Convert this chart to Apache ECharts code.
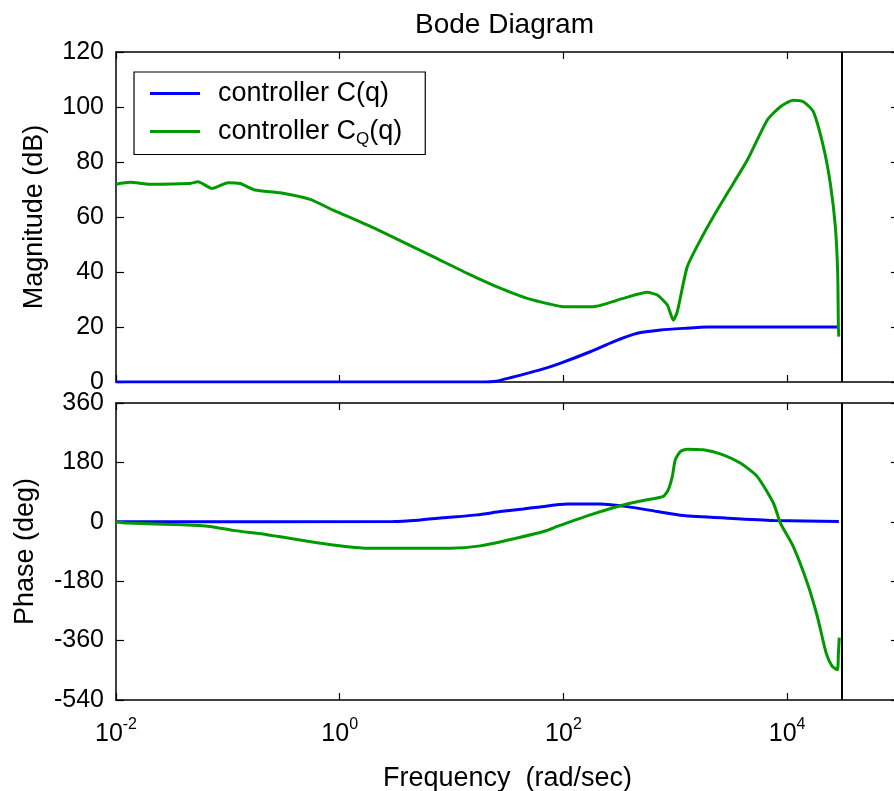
<!DOCTYPE html>
<html lang="en">
<head>
    <meta charset="UTF-8">
    <title>Bode Diagram</title>
    <script src="https://cdn.jsdelivr.net/npm/echarts@6/dist/echarts.min.js"></script>
    <style>
        html, body { margin: 0; padding: 0; background: #fff; }
    </style>
</head>
<body>
    <div id="ec" style="width:894px;height:791px"></div>
</body>
<script>
    // frequencies are stored as log10(w), w in rad/sec
    var seriesNames = ['controller C(q)', 'controller C_Q(q)']

    var magBlueLogW = [-2, 1.27, 1.4, 1.52, 1.79, 1.97, 2.24, 2.45, 2.66, 2.87, 3.07, 3.29, 4.462]
    var magBlue = [0, 0, 0.3, 1.5, 4.4, 6.8, 11.0, 14.7, 17.7, 18.9, 19.5, 20, 20]

    var magGreenLogW = [-2, -1.875, -1.696, -1.338, -1.267, -1.141, -0.998, -0.891, -0.757, -0.533,
        -0.265, -0.059, 0.245, 0.540, 0.835, 1.140, 1.435, 1.676, 1.882, 2.0, 2.267, 2.535, 2.750,
        2.839, 2.929, 2.982, 3.018, 3.107, 3.224, 3.340, 3.465, 3.644, 3.823, 3.940, 4.055, 4.145,
        4.234, 4.324, 4.386, 4.431, 4.452, 4.458, 4.462]
    var magGreen = [71.9, 72.6, 71.9, 72.2, 72.8, 70.4, 72.5, 72.2, 69.8, 68.8,
        66.4, 62.5, 57.1, 51.4, 45.6, 39.5, 34.1, 30.4, 28.3, 27.4, 27.4, 30.4, 32.6,
        31.6, 28, 22.5, 25.6, 41.9, 51.6, 60.1, 68.6, 80.7, 95.3, 100.1, 102.5, 101.9,
        98.3, 85.6, 72.2, 56.5, 39.5, 20.1, 16.5]

    var phBlueLogW = [-2, 0.478, 0.7, 0.925, 1.229, 1.435, 1.640, 1.766, 2.034, 2.329, 2.571, 2.839, 3.072, 3.465, 3.877, 4.462]
    var phBlue = [0, 1, 5, 12, 21, 31, 39, 44, 54, 54, 46, 31, 19, 11, 4, 1]

    var phGreenLogW = [-2, -1.902, -1.401, -1.159, -0.953, -0.649, -0.354, -0.059, 0.245, 0.987,
        1.256, 1.587, 1.837, 1.945, 2.240, 2.535, 2.750, 2.893, 2.937, 2.973, 3.0, 3.045, 3.107,
        3.250, 3.402, 3.581, 3.733, 3.877, 3.940, 4.055, 4.181, 4.270, 4.349, 4.403, 4.449, 4.458, 4.466]
    var phGreen = [0, -4, -9, -14, -26, -39, -55, -70, -80, -80,
        -73, -49, -28, -14, 21, 51, 67, 77, 97, 137, 188, 213, 220,
        218, 206, 178, 137, 57, -4, -75, -186, -287, -398, -438, -448, -400, -351]

    var nyquistLogW = 4.485
    var magTicks = { min: 0, max: 120, interval: 20 }
    var phTicks = { min: -540, max: 360, interval: 180 }
    var freqTicks = { min: -2, max: 5, interval: 2 }

    function pairs(xs, ys) {
        return xs.map(function(x, i) { return [x, ys[i]] })
    }

    var font = '"Liberation Sans", Arial, Helvetica, sans-serif'
    var blue = '#0000ff'
    var green = '#009a00'

    function xAx(grid, pos, labels) {
        return {
            type: 'value', gridIndex: grid, position: pos,
            min: freqTicks.min, max: freqTicks.max, interval: freqTicks.interval,
            axisLine: { show: true, onZero: false, lineStyle: { color: '#000', width: 1.5 } },
            axisTick: { show: true, inside: true, length: 7, lineStyle: { color: '#000', width: 1.2 } },
            splitLine: { show: false },
            axisLabel: {
                show: labels, showMaxLabel: false, margin: 17,
                color: '#000', fontFamily: font, fontSize: 25, lineHeight: 34,
                formatter: function(v) { return '{b|10}{sup|' + v + '}' },
                rich: {
                    b: { fontSize: 25, lineHeight: 34, fontFamily: font, color: '#000' },
                    sup: { fontSize: 16, lineHeight: 16, verticalAlign: 'top', fontFamily: font, color: '#000' }
                }
            }
        }
    }

    function yAx(grid, pos, t, labels) {
        return {
            type: 'value', gridIndex: grid, position: pos,
            min: t.min, max: t.max, interval: t.interval,
            axisLine: { show: true, onZero: false, lineStyle: { color: '#000', width: 1.5 } },
            axisTick: { show: true, inside: true, length: 8, lineStyle: { color: '#000', width: 1.2 } },
            splitLine: { show: false },
            axisLabel: { show: labels, margin: 12, color: '#000', fontFamily: font, fontSize: 25 }
        }
    }

    var xAxes = [xAx(0, 'bottom', false), xAx(0, 'top', false), xAx(1, 'bottom', true), xAx(1, 'top', false)]
    xAxes[2].name = 'Frequency  (rad/sec)'
    xAxes[2].nameLocation = 'middle'
    xAxes[2].nameGap = 65
    xAxes[2].nameTextStyle = { color: '#000', fontFamily: font, fontSize: 27 }

    var yAxes = [yAx(0, 'left', magTicks, true), yAx(0, 'right', magTicks, false),
                 yAx(1, 'left', phTicks, true), yAx(1, 'right', phTicks, false)]
    yAxes[0].name = 'Magnitude (dB)'
    yAxes[0].nameLocation = 'middle'
    yAxes[0].nameGap = 68
    yAxes[0].nameTextStyle = { color: '#000', fontFamily: font, fontSize: 27 }
    yAxes[2].name = 'Phase (deg)'
    yAxes[2].nameLocation = 'middle'
    yAxes[2].nameGap = 77
    yAxes[2].nameTextStyle = { color: '#000', fontFamily: font, fontSize: 27 }

    var nyq = {
        silent: true, symbol: ['none', 'none'], label: { show: false },
        lineStyle: { color: '#000', width: 2, type: 'solid' },
        data: [{ xAxis: nyquistLogW }]
    }

    function line(name, color, xi, yi, data, mark) {
        var s = {
            name: name, type: 'line', xAxisIndex: xi, yAxisIndex: yi,
            data: data, showSymbol: false, symbol: 'none', smooth: 0.2,
            lineStyle: { color: color, width: 3 }, itemStyle: { color: color }
        }
        if (mark) s.markLine = nyq
        return s
    }

    var mychart = echarts.init(document.getElementById('ec'))
    mychart.setOption({
        animation: false,
        backgroundColor: '#fff',
        title: {
            text: 'Bode Diagram', left: 410, top: 6,
            textStyle: { color: '#000', fontFamily: font, fontSize: 28, fontWeight: 'normal' }
        },
        legend: {
            data: seriesNames, orient: 'vertical', left: 134, top: 72,
            icon: 'rect', itemWidth: 50, itemHeight: 3, itemGap: 11,
            padding: [8, 23, 7, 16],
            backgroundColor: '#fff', borderColor: '#000', borderWidth: 1.2,
            formatter: function(n) { return n.replace('_Q', '{sub|Q}') },
            textStyle: {
                color: '#000', fontFamily: font, fontSize: 27, lineHeight: 26, padding: [0, 0, 0, 13],
                rich: {
                    sub: { fontSize: 17, lineHeight: 17, padding: [12, 0, 0, 0], verticalAlign: 'top', fontFamily: font, color: '#000' }
                }
            }
        },
        grid: [
            { left: 116, width: 783, top: 52, height: 330, outerBoundsMode: 'none' },
            { left: 116, width: 783, top: 403, height: 297, outerBoundsMode: 'none' }
        ],
        xAxis: xAxes,
        yAxis: yAxes,
        series: [
            line(seriesNames[0], blue, 0, 0, pairs(magBlueLogW, magBlue), true),
            line(seriesNames[1], green, 0, 0, pairs(magGreenLogW, magGreen), false),
            line(seriesNames[0], blue, 2, 2, pairs(phBlueLogW, phBlue), true),
            line(seriesNames[1], green, 2, 2, pairs(phGreenLogW, phGreen), false)
        ]
    })
</script>
</html>
